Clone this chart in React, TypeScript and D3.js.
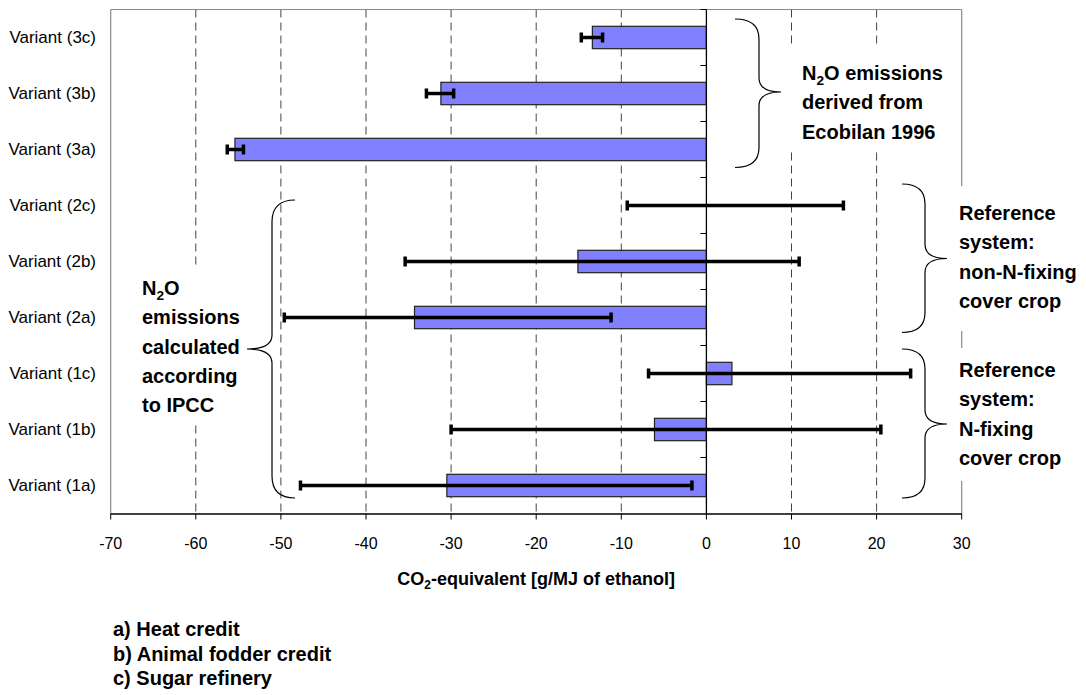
import React from "react";
import * as d3 from "d3";

const categories = [
  "Variant (3c)",
  "Variant (3b)",
  "Variant (3a)",
  "Variant (2c)",
  "Variant (2b)",
  "Variant (2a)",
  "Variant (1c)",
  "Variant (1b)",
  "Variant (1a)",
];
const values = [-13.4, -31.2, -55.4, 0, -15.1, -34.3, 3.0, -6.1, -30.5];
const errLow = [-14.7, -32.9, -56.3, -9.3, -35.4, -49.6, -6.8, -30.0, -47.7];
const errHigh = [-12.2, -29.7, -54.4, 16.1, 10.9, -11.2, 24.0, 20.5, -1.7];
const xTicks = [-70, -60, -50, -40, -30, -20, -10, 0, 10, 20, 30];
const legendLines = ["a) Heat credit", "b) Animal fodder credit", "c) Sugar refinery"];

const FONT = "'Liberation Sans', Arial, sans-serif";

function bracePath(x0: number, xv: number, xt: number, yTop: number, yMid: number, yBot: number, r: number, rt: number) {
  return [
    `M${x0},${yTop}`,
    `Q${xv},${yTop} ${xv},${yTop + r}`,
    `L${xv},${yMid - rt}`,
    `Q${xv},${yMid} ${xt},${yMid}`,
    `M${xt},${yMid}`,
    `Q${xv},${yMid} ${xv},${yMid + rt}`,
    `L${xv},${yBot - r}`,
    `Q${xv},${yBot} ${x0},${yBot}`,
  ].join(" ");
}

function N2O({ size }: { size: number }) {
  return (
    <>
      <tspan>N</tspan>
      <tspan fontSize={size * 0.68} dy={5}>2</tspan>
      <tspan dy={-5}>O</tspan>
    </>
  );
}

export default function App() {
  const left = 110.7;
  const right = 961.7;
  const top = 9.5;
  const bottom = 513.5;
  const x = d3.scaleLinear().domain([-70, 30]).range([left, right]);
  const y = d3
    .scaleBand<string>()
    .domain(categories)
    .range([top, bottom])
    .paddingInner(0.6)
    .paddingOuter(0.3);
  const step = y.step();
  const bw = y.bandwidth();
  const cy = (c: string) => (y(c) as number) + bw / 2;
  const x0 = x(0);

  const annSize = 20;
  const lh = 29.3;

  return (
    <svg
      width={1086}
      height={695}
      style={{ position: "absolute", left: 0, top: 0, background: "#fff" }}
      fontFamily={FONT}
    >
      <rect x={0} y={0} width={1086} height={695} fill="#fff" />
      {/* gridlines */}
      {xTicks
        .filter((t) => t !== 0 && t !== -70 && t !== 30)
        .map((t) => (
          <line
            key={"g" + t}
            x1={x(t)}
            x2={x(t)}
            y1={top}
            y2={bottom}
            stroke="#444"
            strokeWidth={1}
            strokeDasharray="8,5"
          />
        ))}
      {/* frame */}
      <line x1={left} x2={right} y1={top} y2={top} stroke="#8a8a8a" strokeWidth={1.2} />
      <line x1={left} x2={left} y1={top} y2={bottom} stroke="#8a8a8a" strokeWidth={1.2} />
      <line x1={right} x2={right} y1={top} y2={bottom} stroke="#8a8a8a" strokeWidth={1.2} />

      {/* bars */}
      {categories.map((c, i) =>
        values[i] !== 0 ? (
          <rect
            key={"b" + c}
            x={Math.min(x(values[i]), x0)}
            y={y(c)}
            width={Math.abs(x(values[i]) - x0)}
            height={bw}
            fill="#8080ff"
            stroke="#222"
            strokeWidth={1.2}
          />
        ) : null
      )}

      {/* zero axis */}
      <line x1={x0} x2={x0} y1={top} y2={bottom} stroke="#000" strokeWidth={1.3} />
      {categories.map((c, i) => (
        <line
          key={"yt" + i}
          x1={x0 - 6}
          x2={x0}
          y1={top + i * step}
          y2={top + i * step}
          stroke="#000"
          strokeWidth={1}
        />
      ))}

      {/* error bars */}
      {categories.map((c, i) => {
        const yc = cy(c);
        return (
          <g key={"e" + c}>
            <line x1={x(errLow[i])} x2={x(errHigh[i])} y1={yc} y2={yc} stroke="#000" strokeWidth={3.5} />
            <line x1={x(errLow[i])} x2={x(errLow[i])} y1={yc - 5} y2={yc + 5} stroke="#000" strokeWidth={3.5} />
            <line x1={x(errHigh[i])} x2={x(errHigh[i])} y1={yc - 5} y2={yc + 5} stroke="#000" strokeWidth={3.5} />
          </g>
        );
      })}

      {/* x axis */}
      <line x1={left} x2={right} y1={bottom + 0.5} y2={bottom + 0.5} stroke="#000" strokeWidth={1.3} />
      {xTicks.map((t) => (
        <g key={"xt" + t}>
          <line x1={x(t)} x2={x(t)} y1={bottom} y2={bottom + 6} stroke="#000" strokeWidth={1} />
          <text x={x(t)} y={549} textAnchor="middle" fontSize={16} fill="#000">
            {t}
          </text>
        </g>
      ))}
      <text x={(left + right) / 2} y={585} textAnchor="middle" fontSize={18} fontWeight="bold" fill="#000">
        <tspan>CO</tspan>
        <tspan fontSize={12} dy={4}>2</tspan>
        <tspan dy={-4}>-equivalent [g/MJ of ethanol]</tspan>
      </text>

      {/* category labels */}
      {categories.map((c) => (
        <text key={"yl" + c} x={96} y={cy(c) + 5} textAnchor="end" fontSize={17} fill="#000">
          {c}
        </text>
      ))}

      {/* annotation boxes */}
      <rect x={786} y={45} width={164} height={107} fill="#fff" />
      <rect x={952} y={186} width={134} height={145} fill="#fff" />
      <rect x={952} y={348} width={134} height={133} fill="#fff" />
      <rect x={138} y={265} width={105} height={160} fill="#fff" />

      <g fontSize={annSize} fontWeight="bold" fill="#000">
        <text x={802} y={80}>
          <N2O size={annSize} />
          <tspan> emissions</tspan>
        </text>
        <text x={802} y={80 + lh}>derived from</text>
        <text x={802} y={80 + 2 * lh}>Ecobilan 1996</text>

        <text x={959} y={220}>Reference</text>
        <text x={959} y={220 + lh}>system:</text>
        <text x={959} y={220 + 2 * lh}>non-N-fixing</text>
        <text x={959} y={220 + 3 * lh}>cover crop</text>

        <text x={959} y={377}>Reference</text>
        <text x={959} y={377 + lh}>system:</text>
        <text x={959} y={377 + 2 * lh}>N-fixing</text>
        <text x={959} y={377 + 3 * lh}>cover crop</text>

        <text x={142} y={295}>
          <N2O size={annSize} />
        </text>
        <text x={142} y={295 + lh}>emissions</text>
        <text x={142} y={295 + 2 * lh}>calculated</text>
        <text x={142} y={295 + 3 * lh}>according</text>
        <text x={142} y={295 + 4 * lh}>to IPCC</text>
      </g>

      {/* braces */}
      <g fill="none" stroke="#000" strokeWidth={1.2}>
        <path d={bracePath(735, 759, 781, 19, 92, 167.5, 20, 14)} />
        <path d={bracePath(902, 925, 947, 184, 258.5, 332.5, 20, 14)} />
        <path d={bracePath(902, 925, 947, 349, 424, 498, 20, 14)} />
        <path d={bracePath(295, 272, 247, 200, 349, 498, 22, 14)} />
      </g>

      {/* legend */}
      {legendLines.map((l, i) => (
        <text key={"lg" + i} x={113} y={636 + i * 24.5} fontSize={20} fontWeight="bold" fill="#000">
          {l}
        </text>
      ))}
    </svg>
  );
}
